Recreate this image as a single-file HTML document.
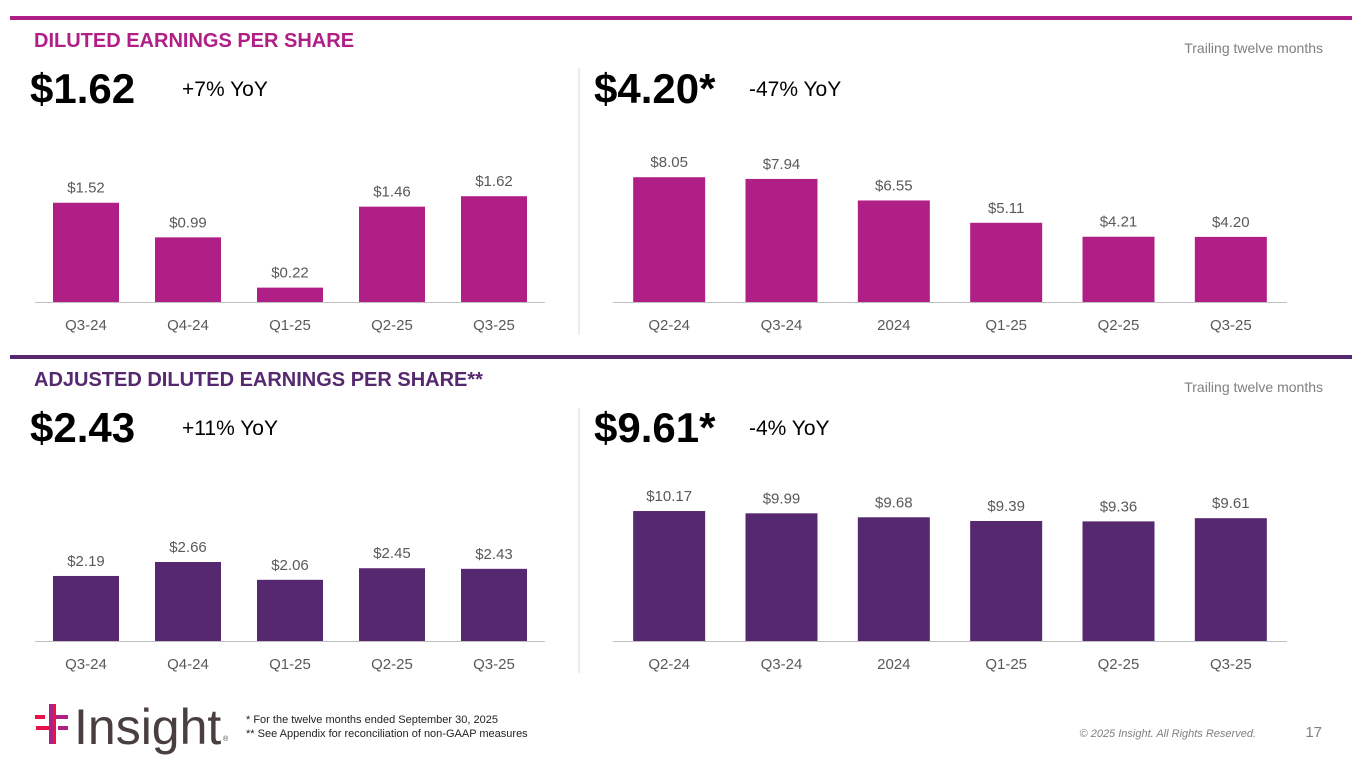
<!DOCTYPE html>
<html><head><meta charset="utf-8"><style>
body{margin:0;width:1365px;height:768px;background:#fff;overflow:hidden;font-family:"Liberation Sans",Arial,sans-serif;}
svg{display:block}
</style></head><body>
<svg id="s" width="1365" height="768">
<rect x="10" y="16" width="1342" height="4" fill="#B01F85"/>
<rect x="10" y="355" width="1342" height="4" fill="#55286F"/>
<text x="34" y="47" font-size="20" font-weight="bold" fill="#B01F85">DILUTED EARNINGS PER SHARE</text>
<text x="1323" y="53" font-size="14" fill="#7f7f7f" text-anchor="end">Trailing twelve months</text>
<text x="34" y="386" font-size="20" font-weight="bold" fill="#55286F">ADJUSTED DILUTED EARNINGS PER SHARE**</text>
<text x="1323" y="392" font-size="14" fill="#7f7f7f" text-anchor="end">Trailing twelve months</text>
<text x="30" y="103" font-size="42" font-weight="bold" fill="#000">$1.62</text>
<text x="182" y="96" font-size="21" fill="#000">+7% YoY</text>
<text x="594" y="103" font-size="42" font-weight="bold" fill="#000">$4.20*</text>
<text x="749" y="96" font-size="21" fill="#000">-47% YoY</text>
<text x="30" y="442" font-size="42" font-weight="bold" fill="#000">$2.43</text>
<text x="182" y="435" font-size="21" fill="#000">+11% YoY</text>
<text x="594" y="442" font-size="42" font-weight="bold" fill="#000">$9.61*</text>
<text x="749" y="435" font-size="21" fill="#000">-4% YoY</text>
<line x1="579" y1="68" x2="579" y2="335" stroke="#d9d9d9"/>
<line x1="579" y1="408" x2="579" y2="673" stroke="#d9d9d9"/>
<g>
<rect x="35" y="715" width="10" height="4" fill="#E8114A"/><rect x="55" y="715" width="13" height="4" fill="#B01F85"/>
<rect x="36" y="726" width="13" height="4" fill="#E8114A"/><rect x="58" y="726" width="10" height="4" fill="#B01F85"/>
<rect x="49" y="704" width="4" height="40" fill="#B01F85"/><rect x="53" y="704" width="3" height="40" fill="#E8114A"/>
<text x="74" y="744" font-size="50" fill="#4a3f3f">Insight</text>
<text x="223" y="741" font-size="7" fill="#4a3f3f">®</text>
</g>
<text x="246" y="723" font-size="11" fill="#222">* For the twelve months ended September 30, 2025</text>
<text x="246" y="737" font-size="11" fill="#222">** See Appendix for reconciliation of non-GAAP measures</text>
<text x="1256" y="737" font-size="11" font-style="italic" fill="#7f7f7f" text-anchor="end">© 2025 Insight. All Rights Reserved.</text>
<text x="1322" y="737" font-size="15" fill="#7f7f7f" text-anchor="end">17</text>
</svg>
<script>
const qCats=["Q3-24","Q4-24","Q1-25","Q2-25","Q3-25"];
const ttmCats=["Q2-24","Q3-24","2024","Q1-25","Q2-25","Q3-25"];
const epsQ=[1.52,0.99,0.22,1.46,1.62];
const epsTtm=[8.05,7.94,6.55,5.11,4.21,4.20];
const adjQ=[2.19,2.66,2.06,2.45,2.43];
const adjTtm=[10.17,9.99,9.68,9.39,9.36,9.61];
const NS="http://www.w3.org/2000/svg";
const svg=document.getElementById('s');
function chart(name,cats,vals,x0,x1,base,scale,bw,color){
  const g=document.createElementNS(NS,'g');
  
  
  svg.appendChild(g);
  const step=(x1-x0)/cats.length;
  const ax=document.createElementNS(NS,'line');
  ax.setAttribute('x1',x0);ax.setAttribute('x2',x1);ax.setAttribute('y1',base+0.5);ax.setAttribute('y2',base+0.5);ax.setAttribute('stroke','#bfbfbf');
  
  
  g.appendChild(ax);
  cats.forEach((c,i)=>{
    const cx=x0+step*(i+0.5), h=vals[i]*scale;
    const r=document.createElementNS(NS,'rect');
    r.setAttribute('x',cx-bw/2);r.setAttribute('y',base-h);r.setAttribute('width',bw);r.setAttribute('height',h);r.setAttribute('fill',color);
    
    
    g.appendChild(r);
    const t=document.createElementNS(NS,'text');
    t.setAttribute('x',cx);t.setAttribute('y',base-h-10);t.setAttribute('text-anchor','middle');t.setAttribute('font-size','15');t.setAttribute('fill','#595959');
    t.textContent='$'+vals[i].toFixed(2);
    
    
    g.appendChild(t);
    const l=document.createElementNS(NS,'text');
    l.setAttribute('x',cx);l.setAttribute('y',base+28);l.setAttribute('text-anchor','middle');l.setAttribute('font-size','15');l.setAttribute('fill','#595959');
    l.textContent=c;
    
    
    g.appendChild(l);
  });
}
chart('eps-quarterly-chart',qCats,epsQ,35,545,302,65.3,66,'#B01F85');
chart('eps-ttm-chart',ttmCats,epsTtm,613,1287,302,15.5,72,'#B01F85');
chart('adj-eps-quarterly-chart',qCats,adjQ,35,545,641,29.7,66,'#55286F');
chart('adj-eps-ttm-chart',ttmCats,adjTtm,613,1287,641,12.78,72,'#55286F');
</script>
</body></html>
